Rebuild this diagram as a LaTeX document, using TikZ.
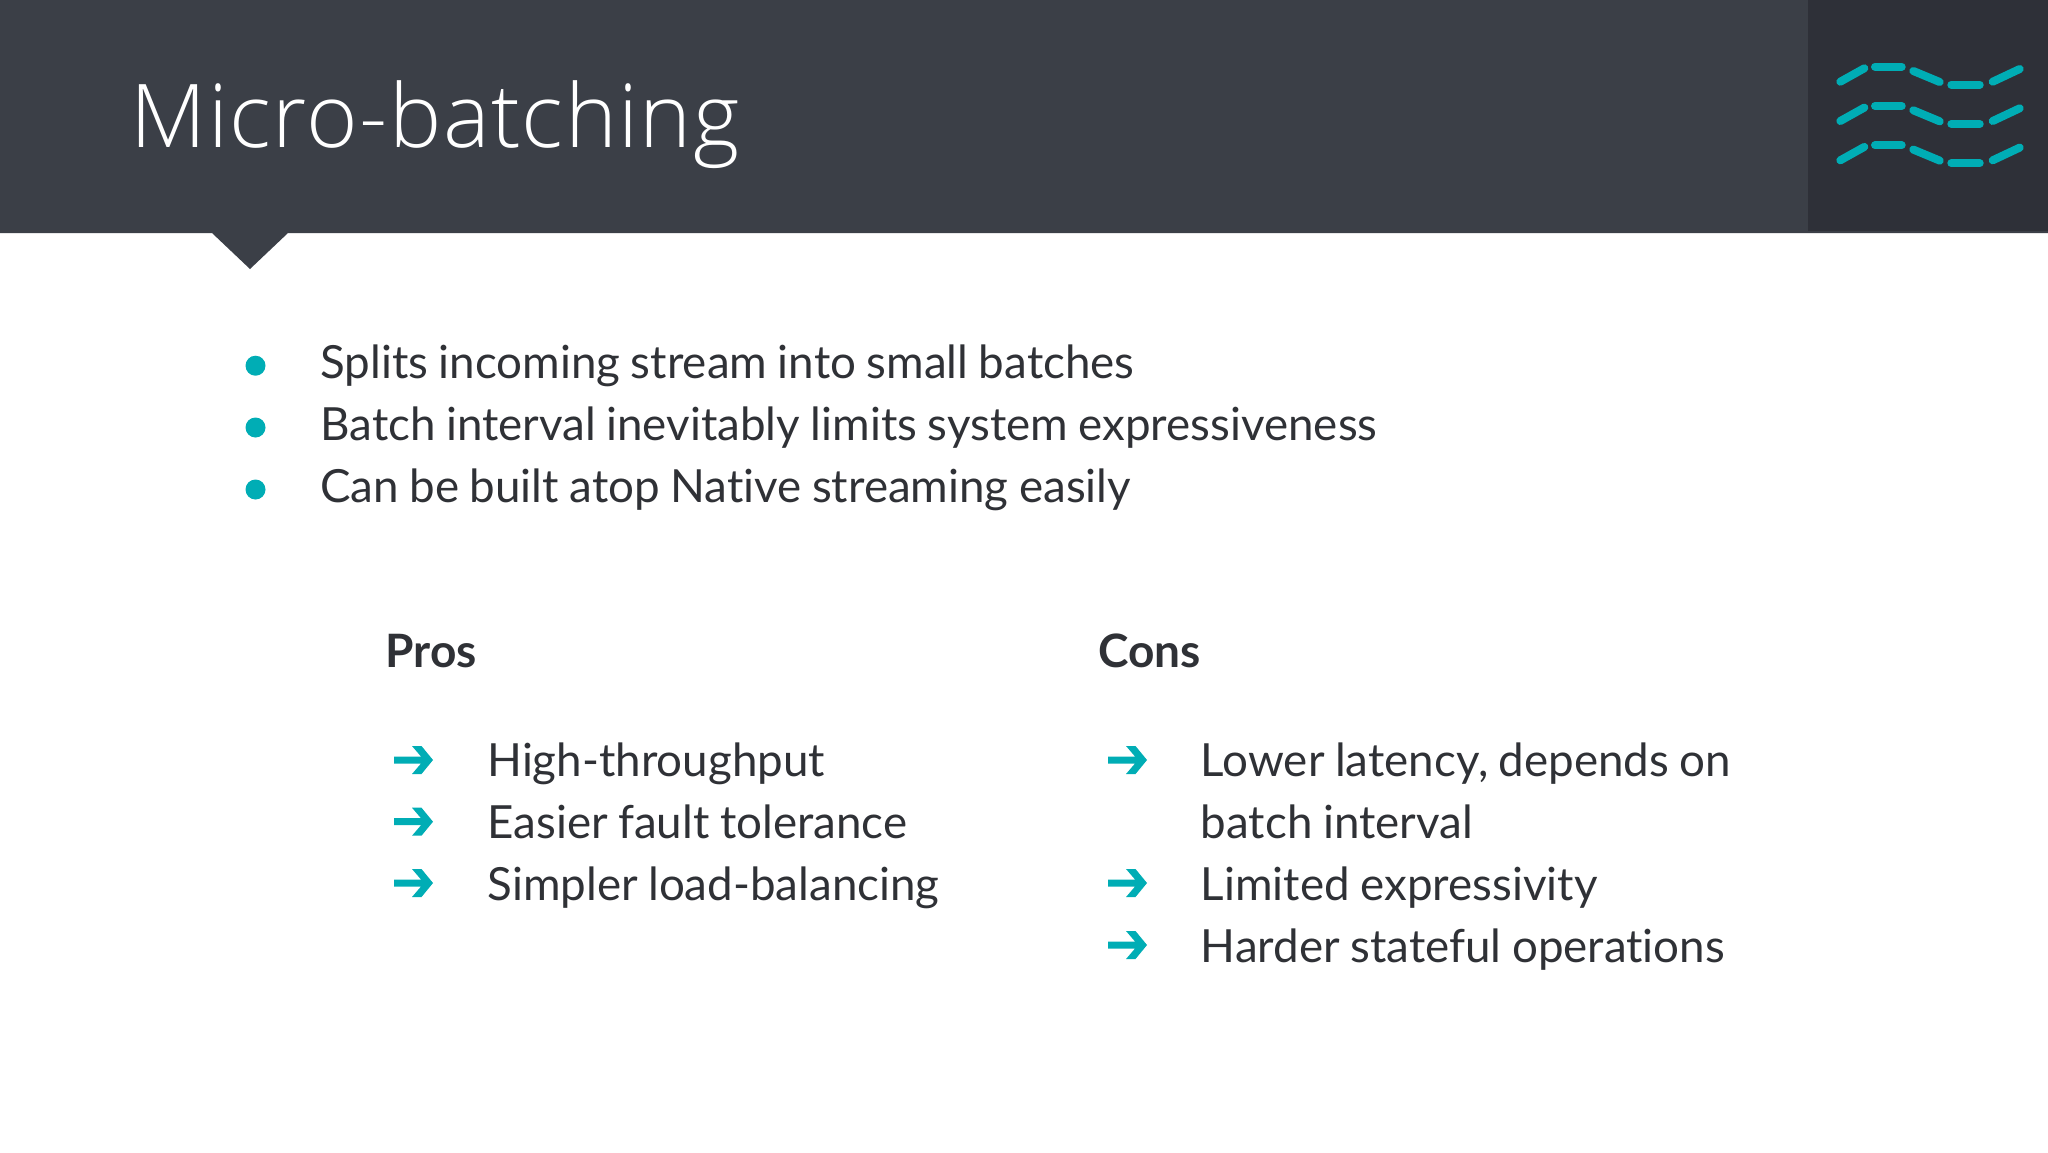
\documentclass[tikz,border=0pt]{standalone}
\usepackage{fontspec}
\setmainfont[Ligatures=NoCommon,WordSpace=0.9]{Lato}
\newfontfamily\titlefont[LetterSpace=1.6]{Open Sans Light}
\definecolor{headbg}{HTML}{3B3F47}
\definecolor{stripbg}{HTML}{2E3038}
\definecolor{teal}{HTML}{00ADB5}
\definecolor{inktext}{HTML}{2F3136}
\tikzset{
  x=0.5pt,y=-0.5pt,
  body/.style={anchor=base west,inner sep=0pt,text=inktext,font=\fontsize{22.85}{28}\selectfont},
  head/.style={body,font=\fontsize{23}{28}\selectfont\bfseries},
  wave/.style={draw=teal,line width=4pt,line cap=round},
  dot/.style={circle,fill=teal,inner sep=0pt,minimum size=10pt},
}
\newcommand{\arrowmark}[2]{%
  \fill[teal,shift={(#1,#2)}] (0,-3.5) -- (27,-3.5) -- (18,-14) -- (27.5,-14) -- (39,0) -- (27.5,14) -- (18,14) -- (27,3.5) -- (0,3.5) -- cycle;}
\newcommand{\waverow}[1]{%
  \draw[wave] (1840.3,81.7+#1) -- (1864.3,68.3+#1);
  \draw[wave] (1875,66.7+#1) -- (1901.7,66.7+#1);
  \draw[wave] (1913.3,71+#1) -- (1939.7,82+#1);
  \draw[wave] (1951.3,84.7+#1) -- (1979.7,84.7+#1);
  \draw[wave] (1992.7,81.7+#1) -- (2019.7,69+#1);}
\begin{document}
\begin{tikzpicture}
\useasboundingbox (0,0) rectangle (2048,1152);
\fill[white] (0,0) rectangle (2048,1152);
\fill[headbg] (0,0) -- (2048,0) -- (2048,233) -- (288,233) -- (250,269) -- (212,233) -- (0,233) -- cycle;
\fill[stripbg] (1808,0) rectangle (2048,231);
\waverow{0}\waverow{39.3}\waverow{78.6}
\node[anchor=base west,inner sep=0pt,text=white,font=\titlefont\fontsize{44}{50}\selectfont] (title) at (130.5,147.6) {Micro-batching};
\node[dot] (b1) at (255.5,365.7) {};
\node[dot] (b2) at (255.5,427.5) {};
\node[dot] (b3) at (255.5,489.5) {};
\node[body] (t1) at (320,378.5) {Splits incoming stream into small batches};
\node[body] (t2) at (320,440.5) {Batch interval inevitably limits system expressiveness};
\node[body] (t3) at (320,502.5) {Can be built atop Native streaming easily};
\node[head] (pros) at (385,667) {Pros};
\node[head] (cons) at (1098,667) {Cons};
\arrowmark{394}{760}\arrowmark{394}{821.7}\arrowmark{394}{883}
\node[body] (p1) at (487,776) {High-throughput};
\node[body] (p2) at (487,838) {Easier fault tolerance};
\node[body] (p3) at (487,900) {Simpler load-balancing};
\arrowmark{1108}{760}\arrowmark{1108}{883}\arrowmark{1108}{945}
\node[body] (c1) at (1200.5,776) {Lower latency, depends on};
\node[body] (c2) at (1200.5,838) {batch interval};
\node[body] (c3) at (1200.5,900) {Limited expressivity};
\node[body] (c4) at (1200.5,962) {Harder stateful operations};
\end{tikzpicture}
\end{document}
